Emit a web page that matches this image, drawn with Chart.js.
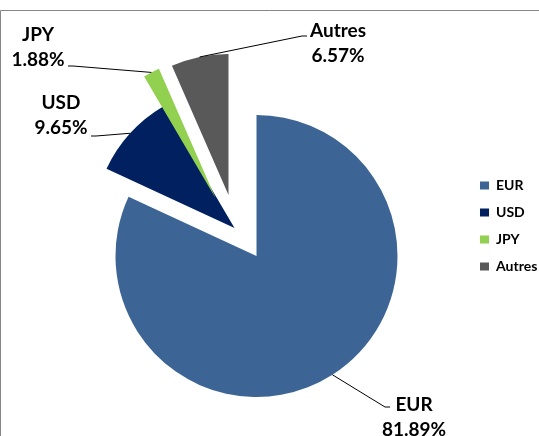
<!DOCTYPE html>
<html>
<head>
<meta charset="utf-8">
<script src="https://cdn.jsdelivr.net/npm/chart.js@4.4.1/dist/chart.umd.min.js"></script>
<style>
  html, body { margin: 0; padding: 0; background: #fff; }
  #wrap { width: 539px; height: 436px; }
</style>
</head>
<body>
<div id="wrap"><canvas id="currencyPie"></canvas></div>
<script>
const currencies = ['EUR', 'USD', 'JPY', 'Autres'];
const shares = [81.89, 9.65, 1.88, 6.57];
const sliceColors = ['#3C6595', '#002060', '#92D050', '#595959'];

// pulled-out slices (px, like the "explosion" of the original)
const pulls = [[0, 0], [-22, -28], [-41, -58], [-28, -61]];

// outside labels: text centre, start of the leader line, small horizontal tick
const labelSpots = [
  {x: 414, y: 405, lx: 390, ly: 407, tick: -5},
  {x: 61, y: 103, lx: 91, ly: 136, tick: 5},
  {x: 38, y: 35, lx: 68, ly: 66, tick: 5},
  {x: 338, y: 31, lx: 307, ly: 36, tick: -5}
];

// legend geometry: legend column starts at x=468, pie centre at x=257
const legendPad = 13, legendBox = 9, legendFontSize = 14;
const measure = document.createElement('canvas').getContext('2d');
measure.font = 'bold ' + legendFontSize + 'px Lato';
const widestLabel = Math.max(...currencies.map(c => measure.measureText(c).width));
const legendWidth = legendPad + legendBox + legendFontSize / 2 + widestLabel + 9;
const legendLeft = 468;
const padRight = 539 - legendLeft - legendWidth;

const frame = {
  id: 'frame',
  beforeDraw(chart){
    const {ctx, width, height} = chart;
    ctx.save();
    ctx.strokeStyle = '#868686';
    ctx.lineWidth = 1;
    ctx.beginPath();
    ctx.moveTo(0.5, height);
    ctx.lineTo(0.5, 10.5);
    ctx.lineTo(width, 10.5);
    ctx.stroke();
    ctx.restore();
  }
};

const explode = {
  id: 'explode',
  afterDatasetUpdate(chart, args){
    args.meta.data.forEach((arc, i)=>{
      const p = pulls[i] || [0, 0];
      arc.x += p[0];
      arc.y += p[1];
    });
  }
};

const outsideLabels = {
  id: 'outsideLabels',
  afterDatasetsDraw(chart){
    const ctx = chart.ctx;
    const meta = chart.getDatasetMeta(0);
    ctx.save();
    ctx.font = 'bold 19px Lato';
    ctx.fillStyle = '#000';
    ctx.strokeStyle = '#000';
    ctx.lineWidth = 1;
    ctx.textAlign = 'center';
    ctx.textBaseline = 'middle';
    meta.data.forEach((arc, i)=>{
      const spot = labelSpots[i];
      const mid = (arc.startAngle + arc.endAngle) / 2;
      const ex = arc.x + Math.cos(mid) * arc.outerRadius;
      const ey = arc.y + Math.sin(mid) * arc.outerRadius;
      ctx.beginPath();
      ctx.moveTo(spot.lx, spot.ly);
      ctx.lineTo(spot.lx + spot.tick, spot.ly);
      ctx.lineTo(ex, ey);
      ctx.stroke();
      ctx.fillText(currencies[i], spot.x, spot.y);
      ctx.fillText(shares[i].toFixed(2) + '%', spot.x, spot.y + 25);
    });
    ctx.restore();
  }
};

// legend sits a bit above the pie centre in the original
const legendNudge = {
  id: 'legendNudge',
  afterLayout(chart){
    chart.legend.top -= 30;
    chart.legend.bottom -= 30;
  }
};

new Chart(document.getElementById('currencyPie'), {
  type: 'pie',
  data: {
    labels: currencies,
    datasets: [{ data: shares, backgroundColor: sliceColors, borderWidth: 0, radius: 141, clip: false }]
  },
  options: {
    responsive: true,
    maintainAspectRatio: false,
    animation: false,
    layout: { padding: { top: 76, bottom: 0, left: 514 - legendLeft, right: padRight } },
    plugins: {
      legend: {
        position: 'right',
        labels: {
          boxWidth: legendBox, boxHeight: 8, padding: legendPad, color: '#000',
          font: { family: 'Lato', size: legendFontSize, weight: 'bold' }
        }
      },
      tooltip: { enabled: false }
    }
  },
  plugins: [frame, explode, outsideLabels, legendNudge]
});
</script>
</body>
</html>
